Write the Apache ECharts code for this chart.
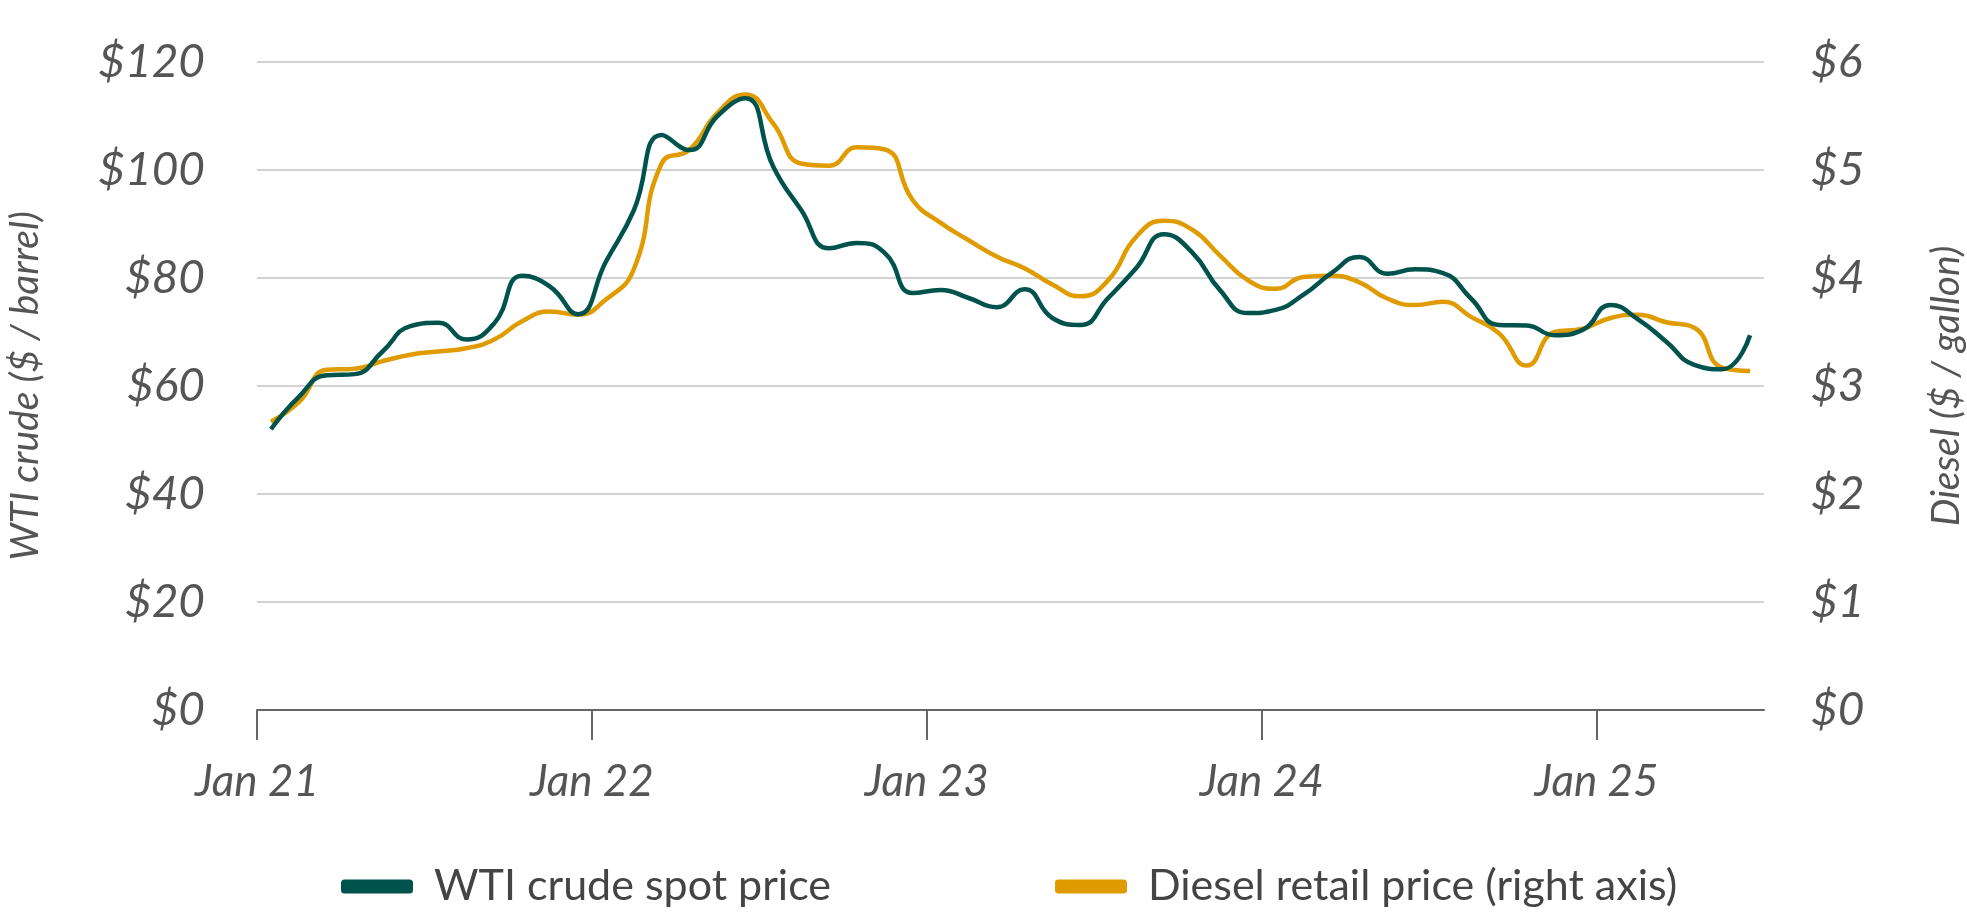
<!DOCTYPE html>
<html>
<head>
<meta charset="utf-8">
<script src="https://cdn.jsdelivr.net/npm/echarts@6/dist/echarts.min.js"></script>
<style>
  html, body { margin: 0; padding: 0; background: #fff; }
  #chart { width: 1967px; height: 915px; }
</style>
</head>
<body>
<div id="chart"></div>
<script>
// monthly averages, Jan 2021 - Jun 2025
var wtiPrice = [
  52.0, 58.0, 62.0, 62.2, 66.4, 71.1, 71.7, 68.6, 71.6, 80.4, 78.4, 73.3,
  83.0, 92.5, 106.5, 103.7, 110.0, 113.3, 100.6, 92.6, 85.5, 86.5, 84.6, 77.2,
  77.8, 76.3, 74.6, 77.9, 72.6, 71.3, 76.3, 81.8, 88.1, 84.8, 77.8, 73.5,
  74.1, 76.9, 80.9, 83.9, 80.8, 81.6, 80.9, 76.2, 71.3, 71.2, 69.4, 70.4,
  75.0, 72.3, 68.2, 63.9, 63.1, 69.4
];
var dieselPrice = [
  2.67, 2.85, 3.15, 3.16, 3.23, 3.29, 3.32, 3.35, 3.43, 3.60, 3.69, 3.66,
  3.80, 4.08, 5.06, 5.19, 5.53, 5.70, 5.43, 5.06, 5.04, 5.21, 5.19, 4.72,
  4.51, 4.35, 4.20, 4.09, 3.94, 3.83, 3.98, 4.38, 4.53, 4.45, 4.21, 3.98,
  3.90, 4.01, 4.02, 3.96, 3.81, 3.75, 3.78, 3.64, 3.49, 3.19, 3.50, 3.53,
  3.63, 3.66, 3.59, 3.54, 3.17, 3.14
];
var yearTicks = [0, 12, 24, 36, 48];
var yearLabels = ['Jan 21', 'Jan 22', 'Jan 23', 'Jan 24', 'Jan 25'];
var seriesNames = ['WTI crude spot price', 'Diesel retail price (right axis)'];

var font = 'Lato, "Open Sans", sans-serif';
var textGray = '#555';

// points sit in the middle of each month
function toPoints(arr) {
  var out = [];
  for (var i = 0; i < arr.length; i++) {
    out.push([i + 0.5, arr[i]]);
  }
  return out;
}

var myChart = echarts.init(document.getElementById('chart'));

var option = {
  animation: false,
  grid: { left: 257, right: 203, top: 62, bottom: 205, outerBoundsMode: 'none' },
  legend: {
    left: 336,
    top: 860,
    itemWidth: 72,
    itemHeight: 14,
    itemGap: 224,
    icon: 'roundRect',
    textStyle: { fontFamily: font, fontSize: 43, color: '#444', padding: [0, 0, 0, 16] },
    data: seriesNames
  },
  xAxis: {
    type: 'value',
    min: 0,
    max: 54,
    axisLine: { show: true, lineStyle: { color: '#666', width: 2 } },
    axisTick: { show: true, length: 30, lineStyle: { color: '#666', width: 2 }, customValues: yearTicks },
    splitLine: { show: false },
    axisLabel: {
      customValues: yearTicks,
      margin: 50,
      fontFamily: font,
      fontStyle: 'italic',
      fontSize: 44,
      color: textGray,
      formatter: function (v) {
        return yearLabels[yearTicks.indexOf(v)];
      }
    }
  },
  yAxis: [{
    type: 'value',
    min: 0,
    max: 120,
    interval: 20,
    name: 'WTI crude ($ / barrel)',
    nameLocation: 'middle',
    nameRotate: 90,
    nameGap: 212,
    nameTextStyle: { fontFamily: font, fontStyle: 'italic', fontSize: 39, color: textGray },
    axisLine: { show: false },
    axisTick: { show: false },
    splitLine: { lineStyle: { color: '#d2d2d2', width: 2 } },
    axisLabel: {
      margin: 52,
      fontFamily: font,
      fontStyle: 'italic',
      fontSize: 46,
      color: textGray,
      formatter: '${value}'
    }
  }, {
    type: 'value',
    min: 0,
    max: 6,
    interval: 1,
    name: 'Diesel ($ / gallon)',
    nameLocation: 'middle',
    nameRotate: 90,
    nameGap: 163,
    nameTextStyle: { fontFamily: font, fontStyle: 'italic', fontSize: 39, color: textGray },
    axisLine: { show: false },
    axisTick: { show: false },
    splitLine: { show: false },
    axisLabel: {
      margin: 47,
      fontFamily: font,
      fontStyle: 'italic',
      fontSize: 46,
      color: textGray,
      formatter: '${value}'
    }
  }],
  series: [{
    name: seriesNames[0],
    type: 'line',
    yAxisIndex: 0,
    data: toPoints(wtiPrice),
    smooth: 0.5,
    showSymbol: false,
    itemStyle: { color: '#00534c' },
    lineStyle: { color: '#00534c', width: 4.5 },
    z: 3
  }, {
    name: seriesNames[1],
    type: 'line',
    yAxisIndex: 1,
    data: toPoints(dieselPrice),
    smooth: 0.5,
    showSymbol: false,
    itemStyle: { color: '#df9b00' },
    lineStyle: { color: '#df9b00', width: 4.5 },
    z: 2
  }]
};
myChart.setOption(option);
</script>
</body>
</html>
